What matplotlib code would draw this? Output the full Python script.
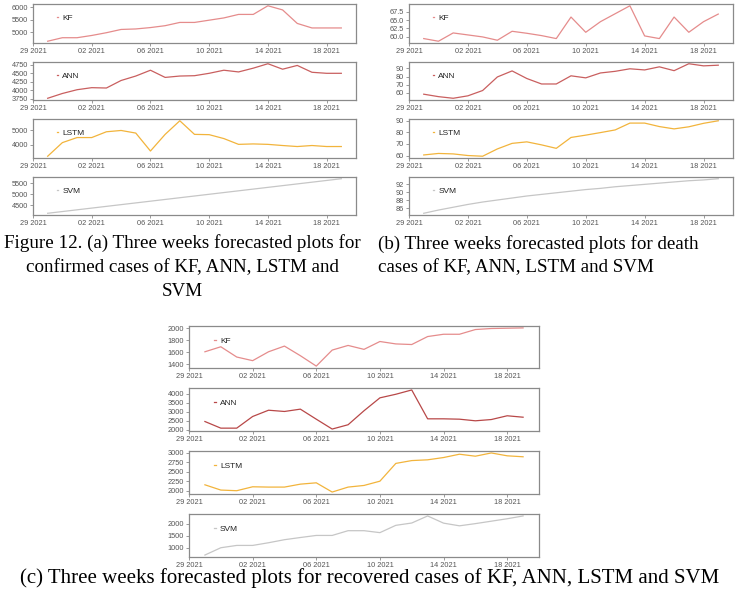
import matplotlib
matplotlib.use('Agg')
from matplotlib import pyplot as plt
import matplotlib.dates as mdates
import numpy as np

W, H = 738, 594

# x axis: daily forecasts, 30 Jan 2021 .. 19 Feb 2021
days = np.arange('2021-01-30', '2021-02-20', dtype='datetime64[D]')
tick_days = np.array(['2021-01-29', '2021-02-02', '2021-02-06', '2021-02-10',
                      '2021-02-14', '2021-02-18'], dtype='datetime64[D]')
models = ['KF', 'ANN', 'LSTM', 'SVM']

# (a) confirmed cases
confirmed_kf = [4650, 4790, 4790, 4880, 4990, 5120, 5140, 5195, 5270, 5400, 5400,
                5490, 5580, 5720, 5720, 6065, 5900, 5360, 5180, 5180, 5180]
confirmed_ann = [3770, 3910, 4020, 4080, 4070, 4290, 4420, 4590, 4380, 4420, 4430,
                 4500, 4590, 4540, 4650, 4780, 4620, 4730, 4530, 4500, 4500]
confirmed_lstm = [3220, 4160, 4510, 4510, 4910, 5000, 4820, 3580, 4730, 5670, 4730,
                  4710, 4440, 4040, 4070, 4040, 3960, 3890, 3960, 3890, 3890]
confirmed_svm = [4120, 4200, 4280, 4360, 4440, 4520, 4600, 4680, 4760, 4840, 4920,
                 5000, 5080, 5160, 5240, 5320, 5400, 5480, 5560, 5640, 5720]

# (b) death cases
death_kf = [59.4, 58.6, 61.1, 60.5, 59.9, 58.9, 61.6, 61.0, 60.3, 59.4, 65.9,
            61.3, 64.5, 66.9, 69.3, 60.2, 59.4, 65.9, 61.3, 64.5, 66.8]
death_ann = [58.5, 55.5, 53.5, 56.5, 63.0, 79.6, 87.0, 77.7, 71.0, 71.0, 81.0,
             78.5, 84.5, 86.5, 89.6, 88.2, 92.0, 87.3, 95.8, 93.2, 94.0]
death_lstm = [60.5, 61.8, 61.4, 60.0, 59.4, 65.7, 70.5, 71.8, 69.2, 66.2, 75.6,
              77.6, 79.8, 82.1, 88.0, 88.0, 85.0, 83.0, 84.8, 87.8, 90.0]
death_svm = [84.8, 85.6, 86.3, 87.0, 87.6, 88.1, 88.6, 89.1, 89.5, 89.9, 90.3,
             90.7, 91.0, 91.4, 91.7, 92.0, 92.3, 92.6, 92.9, 93.1, 93.4]

# (c) recovered cases
recovered_kf = [1610, 1693, 1523, 1463, 1610, 1704, 1545, 1373, 1638, 1715, 1650,
                1780, 1740, 1730, 1862, 1900, 1900, 1978, 1995, 2000, 2005]
recovered_ann = [2460, 2090, 2090, 2740, 3090, 3020, 3150, 2590, 2040, 2280, 3060,
                 3780, 3980, 4220, 2610, 2610, 2590, 2500, 2570, 2780, 2700]
recovered_lstm = [2155, 2017, 2000, 2103, 2095, 2095, 2172, 2207, 1965, 2095, 2138,
                  2250, 2716, 2790, 2810, 2870, 2957, 2905, 2990, 2915, 2890]
recovered_svm = [710, 1010, 1105, 1105, 1215, 1340, 1430, 1515, 1515, 1710, 1710,
                 1630, 1930, 2025, 2315, 2020, 1910, 2000, 2100, 2200, 2315]

yticks_a = [[5000, 5500, 6000], [3750, 4000, 4250, 4500, 4750], [4000, 5000], [4500, 5000, 5500]]
yticks_b = [[60.0, 62.5, 65.0, 67.5], [60, 70, 80, 90], [60, 70, 80, 90], [86, 88, 90, 92]]
yticks_c = [[1400, 1600, 1800, 2000], [2000, 2500, 3000, 3500, 4000],
            [2000, 2250, 2500, 2750, 3000], [1000, 1500, 2000]]

panels = [
    ([confirmed_kf, confirmed_ann, confirmed_lstm, confirmed_svm], yticks_a,
     (33, 356), [(4, 43), (62, 100), (119, 158), (177, 215)],
     ['#e58c8c', '#c95f5f', '#f2b43c', '#c6c6c6']),
    ([death_kf, death_ann, death_lstm, death_svm], yticks_b,
     (409, 733), [(4, 43), (62, 100), (119, 158), (177, 215)],
     ['#e58c8c', '#c95f5f', '#f2b43c', '#c6c6c6']),
    ([recovered_kf, recovered_ann, recovered_lstm, recovered_svm], yticks_c,
     (189, 539), [(326, 368), (388, 431), (451, 494), (514, 557)],
     ['#e58c8c', '#b84848', '#f2b43c', '#c6c6c6']),
]

fig = plt.figure(figsize=(W / 100, H / 100), dpi=100)

for series, yticks, (left, right), rows, colors in panels:
    for i in range(4):
        top, bottom = rows[i]
        ax = fig.add_axes([left / W, 1 - bottom / H, (right - left) / W, (bottom - top) / H])
        ax.plot(days, series[i], color=colors[i], lw=0.9, label=models[i])
        ax.set_xticks(tick_days)
        ax.xaxis.set_major_formatter(mdates.DateFormatter('%d %Y'))
        ax.set_yticks(yticks[i])
        for s in ax.spines.values():
            s.set_color('#8a8a8a')
            s.set_linewidth(0.9)
        ax.tick_params(labelsize=5.3, colors='#8a8a8a', labelcolor='#555555',
                       length=2.5, width=0.6, pad=1)
        for lab in ax.get_xticklabels() + ax.get_yticklabels():
            lab.set_family('Liberation Sans')
        leg = ax.legend(loc='center left', bbox_to_anchor=(0.06, 0.64), frameon=False,
                        handlelength=0.2, handletextpad=0.5, borderpad=0,
                        prop={'family': 'Liberation Sans', 'size': 6})
        for t in leg.get_texts():
            t.set_color('#222222')

cap = {'family': 'Liberation Serif', 'color': 'black'}
fig.text(182, H - 243, 'Figure 12. (a) Three weeks forecasted plots for', transform=None,
         ha='center', va='center', fontsize=13.7, **cap)
fig.text(182, H - 268, 'confirmed cases of KF, ANN, LSTM and', transform=None,
         ha='center', va='center', fontsize=13.7, **cap)
fig.text(182, H - 292, 'SVM', transform=None, ha='center', va='center', fontsize=13.7, **cap)
fig.text(378, H - 244, '(b) Three weeks forecasted plots for death', transform=None,
         ha='left', va='center', fontsize=13.7, **cap)
fig.text(378, H - 268, 'cases of KF, ANN, LSTM and SVM', transform=None,
         ha='left', va='center', fontsize=13.7, **cap)
fig.text(370, H - 578, '(c) Three weeks forecasted plots for recovered cases of KF, ANN, LSTM and SVM',
         transform=None, ha='center', va='center', fontsize=15, **cap)

fig.savefig('out.png', dpi=100)
